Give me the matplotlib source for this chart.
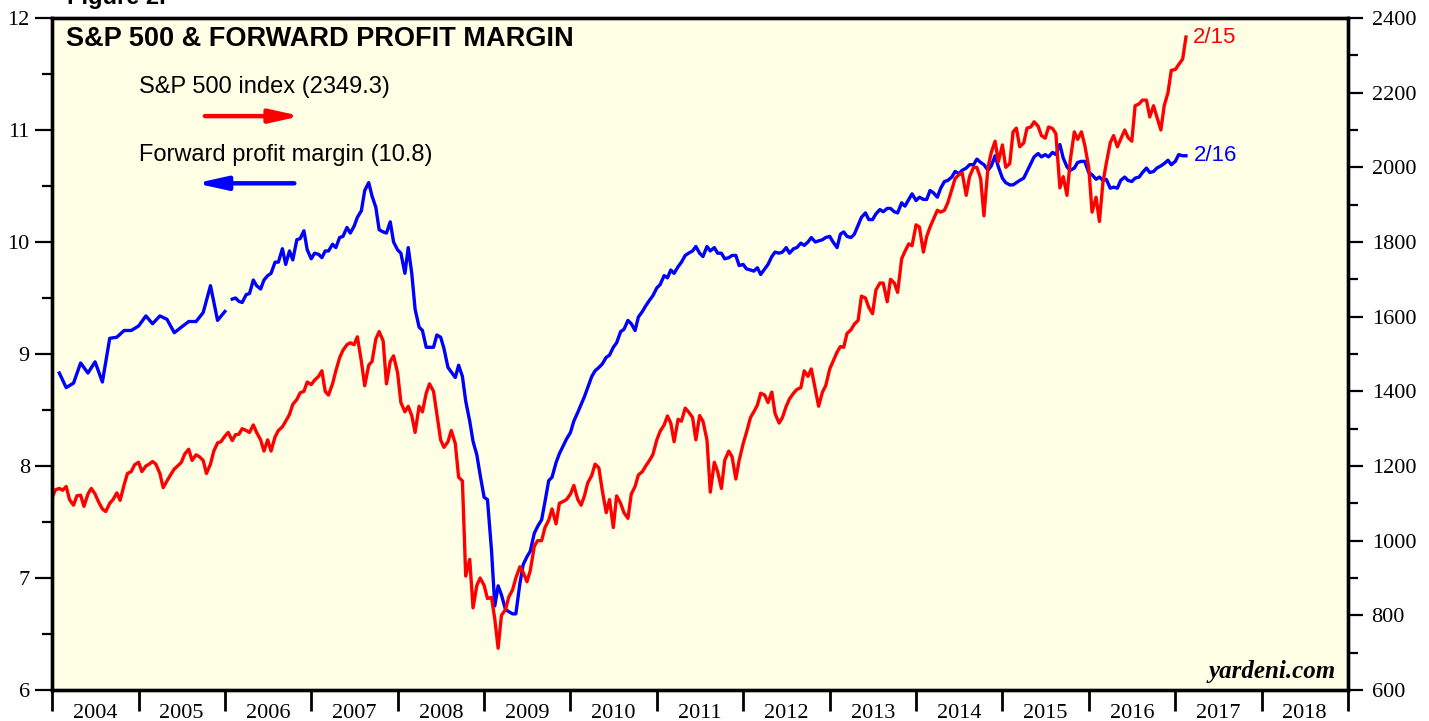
import matplotlib
matplotlib.use("Agg")
import matplotlib.pyplot as plt
import matplotlib.dates as mdates
from matplotlib.ticker import MultipleLocator
import pandas as pd

# S&P 500 index, 1st and 15th of each month, Jan 2004 - Feb 15 2017
sp500 = [
    1114, 1136, 1140, 1135, 1145, 1110, 1095, 1120, 1122, 1092, 1125, 1140, 1125, 1105, 1085, 1078, 1100, 1110, 1128, 1108, 1150, 1180, 1185, 1203,
    1210, 1185, 1200, 1205, 1212, 1205, 1180, 1142, 1160, 1175, 1192, 1200, 1210, 1232, 1245, 1215, 1230, 1225, 1215, 1180, 1205, 1240, 1262, 1265,
    1280, 1290, 1268, 1284, 1285, 1300, 1295, 1290, 1310, 1290, 1270, 1240, 1270, 1240, 1278, 1295, 1305, 1320, 1338, 1365, 1378, 1396, 1400, 1425,
    1418, 1430, 1440, 1455, 1400, 1390, 1420, 1455, 1490, 1510, 1525, 1530, 1525, 1546, 1480, 1415, 1470, 1480, 1540, 1560, 1535, 1420, 1480, 1495,
    1450, 1370, 1345, 1360, 1335, 1290, 1360, 1345, 1395, 1420, 1400, 1340, 1270, 1250, 1265, 1295, 1260, 1170, 1160, 905, 950, 820, 880, 900,
    880, 845, 848, 790, 712, 800, 815, 849, 868, 900, 930, 915, 890, 920, 985, 1000, 1000, 1035, 1055, 1085, 1045, 1100, 1105, 1110,
    1125, 1148, 1110, 1095, 1120, 1155, 1175, 1205, 1195, 1136, 1075, 1110, 1035, 1120, 1100, 1075, 1060, 1125, 1145, 1176, 1185, 1200, 1215, 1230,
    1270, 1293, 1310, 1334, 1315, 1265, 1325, 1320, 1355, 1345, 1330, 1270, 1335, 1320, 1270, 1130, 1210, 1185, 1140, 1215, 1240, 1225, 1165, 1215,
    1260, 1290, 1330, 1345, 1363, 1395, 1390, 1370, 1398, 1340, 1315, 1330, 1360, 1380, 1395, 1405, 1410, 1455, 1440, 1460, 1405, 1360, 1398, 1415,
    1460, 1480, 1505, 1520, 1518, 1555, 1565, 1580, 1590, 1655, 1650, 1625, 1608, 1671, 1690, 1690, 1640, 1700, 1690, 1665, 1755, 1775, 1795, 1790,
    1846, 1840, 1773, 1815, 1840, 1860, 1885, 1880, 1885, 1905, 1940, 1970, 1980, 1985, 1925, 1975, 2000, 2000, 1970, 1870, 2000, 2040, 2070, 2015,
    2060, 2000, 2010, 2095, 2105, 2055, 2065, 2105, 2108, 2122, 2110, 2085, 2078, 2108, 2104, 2090, 1945, 1975, 1925, 2020, 2095, 2075, 2095, 2060,
    2000, 1880, 1920, 1855, 1960, 2010, 2066, 2085, 2055, 2075, 2100, 2080, 2070, 2165, 2170, 2180, 2180, 2135, 2165, 2135, 2100, 2165, 2200, 2260,
    2262, 2275, 2290, 2349,
]

# forward profit margin (%), monthly Feb 2004 - Jan 2006
margin_monthly = [
    8.83, 8.70, 8.74, 8.92, 8.83, 8.93, 8.75, 9.14, 9.15, 9.21, 9.21, 9.25,
    9.34, 9.27, 9.34, 9.31, 9.19, 9.24, 9.29, 9.29, 9.37, 9.61, 9.30, 9.38,
]

# forward profit margin (%), 1st and 15th of each month, Feb 2006 - Feb 15 2017
margin = [
    9.49, 9.50, 9.47, 9.46, 9.53, 9.54, 9.66, 9.61, 9.58, 9.66, 9.70, 9.72, 9.82, 9.82, 9.94, 9.80, 9.92, 9.84, 10.02, 10.03, 10.10, 9.93,
    9.85, 9.90, 9.89, 9.86, 9.92, 9.92, 9.98, 9.95, 10.04, 10.05, 10.13, 10.08, 10.14, 10.22, 10.28, 10.46, 10.53, 10.41, 10.31, 10.11, 10.09, 10.08, 10.18, 10.00,
    9.93, 9.90, 9.72, 9.95, 9.72, 9.40, 9.24, 9.21, 9.06, 9.06, 9.06, 9.17, 9.15, 9.05, 8.88, 8.84, 8.79, 8.90, 8.80, 8.58, 8.40, 8.22, 8.10, 7.92,
    7.72, 7.70, 7.25, 6.75, 6.93, 6.85, 6.72, 6.70, 6.68, 6.68, 6.95, 7.12, 7.19, 7.24, 7.40, 7.46, 7.52, 7.68, 7.87, 7.90, 8.03, 8.11, 8.18, 8.24,
    8.30, 8.40, 8.48, 8.55, 8.62, 8.70, 8.80, 8.85, 8.88, 8.91, 8.97, 8.99, 9.06, 9.10, 9.20, 9.22, 9.30, 9.27, 9.21, 9.33, 9.38, 9.43, 9.48, 9.52,
    9.59, 9.62, 9.70, 9.68, 9.75, 9.72, 9.78, 9.82, 9.88, 9.90, 9.92, 9.96, 9.90, 9.87, 9.96, 9.92, 9.95, 9.90, 9.90, 9.85, 9.86, 9.88, 9.88, 9.79,
    9.80, 9.76, 9.75, 9.74, 9.77, 9.71, 9.76, 9.80, 9.87, 9.91, 9.90, 9.91, 9.95, 9.90, 9.94, 9.95, 9.99, 9.97, 10.00, 10.04, 10.00, 10.01, 10.02, 10.04,
    10.05, 10.00, 9.95, 10.07, 10.09, 10.05, 10.04, 10.07, 10.15, 10.22, 10.26, 10.20, 10.20, 10.25, 10.29, 10.27, 10.30, 10.30, 10.27, 10.26, 10.35, 10.32, 10.38, 10.43,
    10.37, 10.40, 10.38, 10.38, 10.46, 10.44, 10.40, 10.48, 10.54, 10.55, 10.58, 10.63, 10.61, 10.64, 10.66, 10.69, 10.69, 10.74, 10.71, 10.69, 10.64, 10.68, 10.77, 10.67,
    10.57, 10.53, 10.51, 10.51, 10.53, 10.55, 10.57, 10.63, 10.70, 10.76, 10.79, 10.76, 10.78, 10.76, 10.80, 10.78, 10.87, 10.75, 10.67, 10.64, 10.66, 10.71, 10.72, 10.72,
    10.62, 10.60, 10.56, 10.58, 10.55, 10.56, 10.48, 10.49, 10.48, 10.55, 10.58, 10.55, 10.54, 10.57, 10.58, 10.62, 10.66, 10.62, 10.63, 10.66, 10.68, 10.70, 10.73, 10.69,
    10.72, 10.78, 10.77, 10.77,
]

sp_dates = pd.date_range("2004-01-01", periods=len(sp500), freq="SMS")
mm_dates = pd.date_range("2004-02-01", periods=len(margin_monthly), freq="MS")
m_dates = pd.date_range("2006-02-01", periods=len(margin), freq="SMS")

bg = "#ffffe6"
serif = "Liberation Serif"
sans = "Liberation Sans"

fig = plt.figure(figsize=(14.29, 7.21), dpi=100)
ax = fig.add_axes([52 / 1429, 31 / 721, 1296 / 1429, 672 / 721])
ax.set_facecolor(bg)
ax2 = ax.twinx()

ax.plot(mm_dates, margin_monthly, color="blue", lw=2.4)
ax.plot(m_dates, margin, color="blue", lw=2.4)
ax2.plot(sp_dates, sp500, color="red", lw=2.4)

ax.set_xlim(pd.Timestamp("2004-01-01"), pd.Timestamp("2019-01-01"))
ax.set_ylim(6, 12)
ax2.set_ylim(600, 2400)

ax.yaxis.set_major_locator(MultipleLocator(1))
ax.yaxis.set_minor_locator(MultipleLocator(0.5))
ax2.yaxis.set_major_locator(MultipleLocator(200))
ax2.yaxis.set_minor_locator(MultipleLocator(100))

ax.xaxis.set_major_locator(mdates.YearLocator())
ax.xaxis.set_major_formatter(plt.NullFormatter())
ax.xaxis.set_minor_locator(mdates.YearLocator(month=7, day=2))
ax.xaxis.set_minor_formatter(mdates.DateFormatter("%Y"))

for a in (ax, ax2):
    for s in a.spines.values():
        s.set_linewidth(2.4)
        s.set_color("black")

ax.tick_params(axis="y", which="major", direction="out", length=12, width=1.6,
               labelsize=16, pad=4, labelfontfamily=serif)
ax.tick_params(axis="y", which="minor", direction="out", length=7, width=1.6)
ax.tick_params(axis="x", which="major", direction="out", length=15, width=2)
ax.tick_params(axis="x", which="minor", length=0, labelsize=16, pad=10,
               labelfontfamily=serif)
ax2.tick_params(axis="y", which="major", direction="out", length=11, width=1.6,
                labelsize=16, pad=6, labelfontfamily=serif)
ax2.tick_params(axis="y", which="minor", direction="out", length=7, width=1.6)

ax.text(0.0108, 0.969, "S&P 500 & FORWARD PROFIT MARGIN", transform=ax.transAxes,
        fontsize=19.5, fontweight="bold", family=sans, va="center", ha="left")
ax.text(0.067, 0.897, "S&P 500 index (2349.3)", transform=ax.transAxes,
        fontsize=17, family=sans, va="center", ha="left")
ax.text(0.067, 0.796, "Forward profit margin (10.8)", transform=ax.transAxes,
        fontsize=17, family=sans, va="center", ha="left")
ax.annotate("", xy=(0.192, 0.854), xytext=(0.118, 0.854), xycoords="axes fraction",
            arrowprops=dict(arrowstyle="-|>,head_length=1.8,head_width=0.4",
                            lw=3.2, color="red", shrinkA=0, shrinkB=0))
ax.annotate("", xy=(0.111, 0.754), xytext=(0.187, 0.754), xycoords="axes fraction",
            arrowprops=dict(arrowstyle="-|>,head_length=1.8,head_width=0.4",
                            lw=3.2, color="blue", shrinkA=0, shrinkB=0))

ax2.annotate("2/15", xy=(sp_dates[-1], sp500[-1]), xytext=(5, 0),
             textcoords="offset points", color="red", fontsize=16, family=sans,
             va="center", ha="left")
ax.annotate("2/16", xy=(m_dates[-1], margin[-1]), xytext=(6, 0),
            textcoords="offset points", color="blue", fontsize=16, family=sans,
            va="center", ha="left")

ax.text(0.9905, 0.010, "yardeni.com", transform=ax.transAxes, fontsize=18,
        family=serif, fontweight="bold", fontstyle="italic", ha="right", va="bottom")

fig.text(67 / 1429, 1 - 4 / 721, "Figure 2.", fontsize=17, fontweight="bold",
         family=sans, va="baseline", ha="left")

fig.savefig("out.png", dpi=100, facecolor="white")
